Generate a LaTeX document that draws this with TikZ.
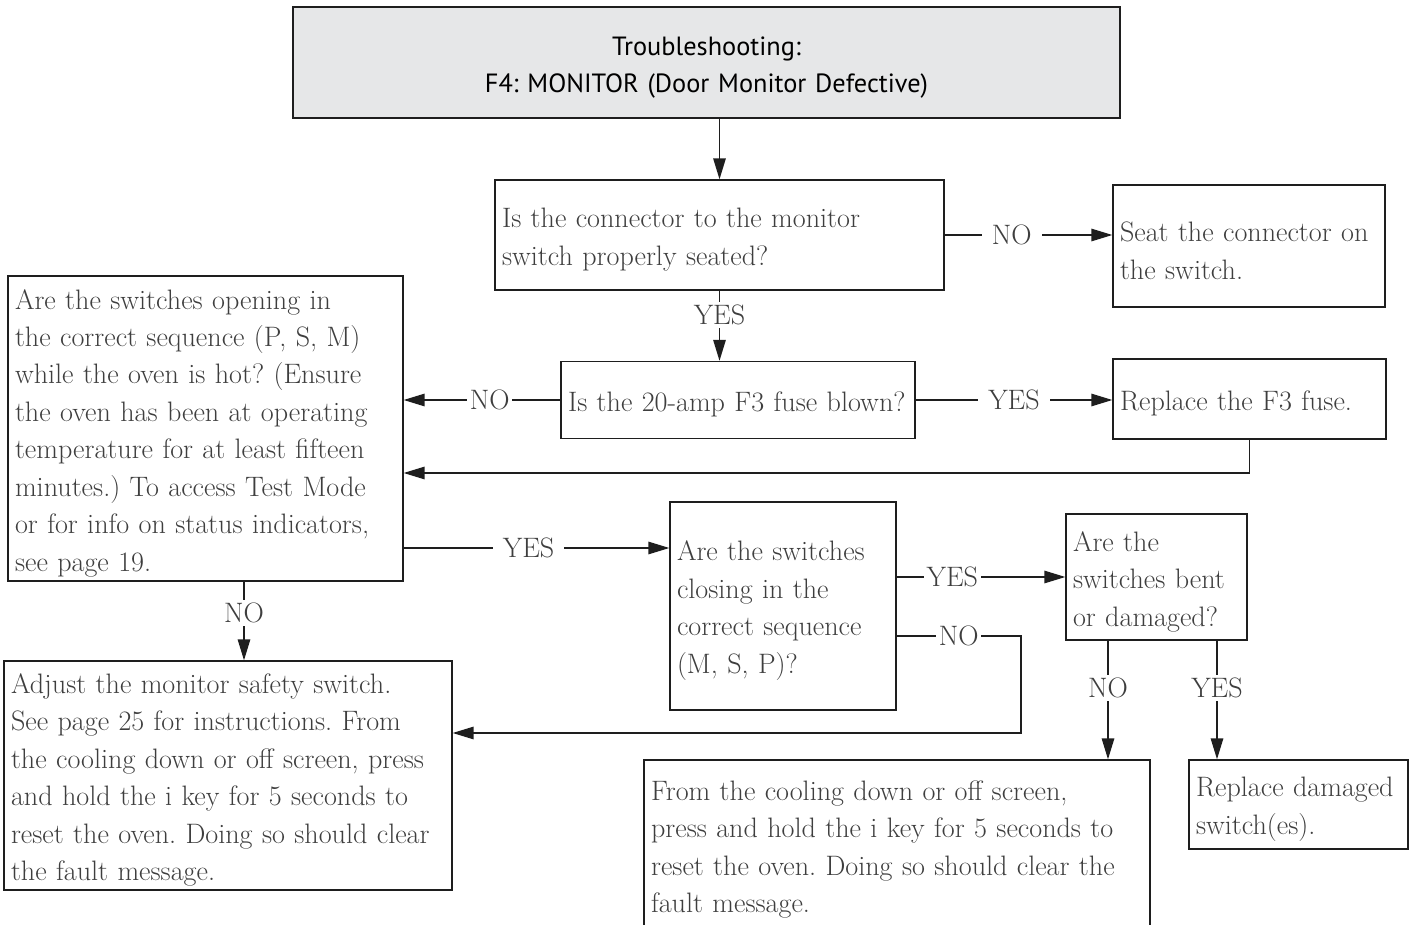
\documentclass[tikz,border=0pt]{standalone}
\usepackage{fontspec}
\newfontfamily\titlefont{PT Sans}
\usepackage{tikz}
\usetikzlibrary{positioning,arrows.meta}
\usepackage{xcolor}
\definecolor{titlegray}{RGB}{230,231,232}
\definecolor{txtgray}{RGB}{62,62,62}
\definecolor{linegray}{RGB}{30,30,30}
\frenchspacing

\begin{document}
\begin{tikzpicture}[x=0.02cm,y=-0.02cm,font=\fontsize{16}{21.3}\selectfont,
  box/.style={draw=linegray,line width=0.8pt,text=txtgray,align=left,inner xsep=0.14cm,inner ysep=0pt,
    execute at begin node={\rule{0pt}{16.5pt}}},
  titlebox/.style={box,fill=titlegray,align=center,text=black,font=\titlefont\fontsize{15}{21.3}\selectfont},
  lbl/.style={fill=white,text=txtgray,inner xsep=0.2cm,inner ysep=0.06cm},
  tight/.style={lbl,inner xsep=1.5pt},
  flow/.style={draw=linegray,line width=0.8pt,-{Triangle[length=0.42cm,width=0.25cm]}}]
\useasboundingbox (0,0) rectangle (1416,925);
% Header
\node[titlebox,text width=16.26cm,minimum height=2.22cm] (title) at (706.5,62.5) {Troubleshooting:\\F4: MONITOR (Door Monitor Defective)};
% Questions and actions
\node[box,text width=8.70cm,minimum height=2.2cm] (conn) at (719.5,235) {Is the connector to the monitor\\switch properly seated?};
\node[box,text width=5.16cm,minimum height=2.44cm] (seat) at (1249,246) {Seat the connector on\\the switch.};
\node[box,text width=6.80cm,minimum height=1.54cm] (fuse) at (738,400) {Is the 20-amp F3 fuse blown?};
\node[box,text width=5.18cm,minimum height=1.6cm] (repfuse) at (1249.5,399) {Replace the F3 fuse.};
\node[box,text width=7.62cm,minimum height=6.1cm] (opening) at (205.5,428.5) {Are the switches opening in\\the correct sequence (P, S, M)\\while the oven is hot? (Ensure\\the oven has been at operating\\temperature for at least fifteen\\minutes.) To access Test Mode\\or for info on status indicators,\\see page 19.};
\node[box,text width=4.24cm,minimum height=4.16cm] (closing) at (783,606) {Are the switches\\closing in the\\correct sequence\\(M, S, P)?};
\node[box,text width=3.34cm,minimum height=2.52cm] (bent) at (1156.5,577) {Are the\\switches bent\\or damaged?};
\node[box,text width=8.68cm,minimum height=4.58cm] (adjust) at (228,775.5) {Adjust the monitor safety switch.\\See page 25 for instructions. From\\the cooling down or off screen, press\\and hold the i key for 5 seconds to\\reset the oven. Doing so should clear\\the fault message.};
\node[box,text width=9.84cm,minimum height=3.4cm] (reset) at (897,845) {From the cooling down or off screen,\\press and hold the i key for 5 seconds to\\reset the oven. Doing so should clear the\\fault message.};
\node[box,text width=4.10cm,minimum height=1.78cm] (repsw) at (1298.5,804.5) {Replace damaged\\switch(es).};
% Connectors
\draw[flow] (conn.north |- title.south) -- (conn.north);
\draw[flow] (conn.south) -- node[lbl,pos=0.35] {YES} (conn.south |- fuse.north);
\draw[flow] (conn.east) -- node[lbl,pos=0.4] {NO} (conn.east -| seat.west);
\draw[flow] (fuse.west) -- node[tight,pos=0.45] {NO} (fuse.west -| opening.east);
\draw[flow] (fuse.east) -- node[lbl] {YES} (fuse.east -| repfuse.west);
\draw[flow] (repfuse.south) |- (opening.east |- 0,473);
\draw[flow] (opening.east |- 0,548) -- node[lbl,pos=0.47] {YES} (closing.west |- 0,548);
\draw[flow] (opening.south -| 244,0) -- node[lbl,pos=0.4] {NO} (adjust.north -| 244,0);
\draw[flow] (bent.west -| closing.east) -- node[tight,pos=0.33] {YES} (bent.west);
\draw[flow] (closing.east |- 0,636) -- node[tight] {NO} (1021,636) |- (adjust.east |- 0,733);
\draw[flow] (bent.south -| 1108,0) -- node[lbl,pos=0.4] {NO} (reset.north -| 1108,0);
\draw[flow] (bent.south -| 1217,0) -- node[lbl,pos=0.4] {YES} (repsw.north -| 1217,0);
\end{tikzpicture}
\end{document}
